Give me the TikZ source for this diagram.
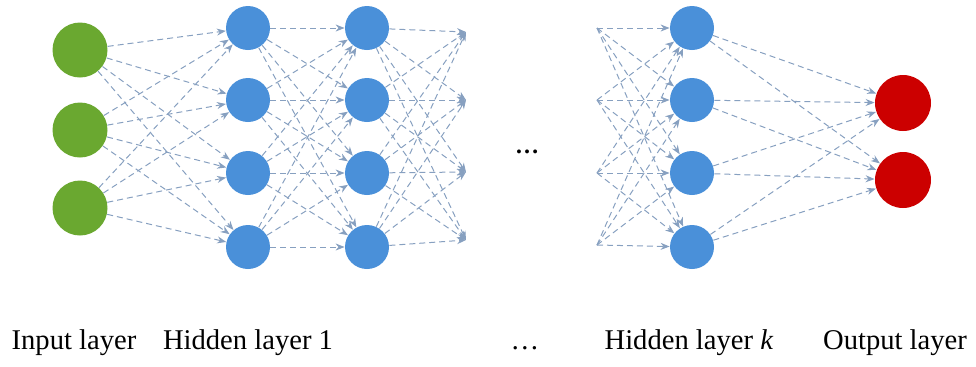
\documentclass[tikz,border=0pt]{standalone}
\usepackage{fontspec}
\setmainfont{Liberation Serif}
\usetikzlibrary{arrows.meta}
\definecolor{ingreen}{RGB}{106,168,48}
\definecolor{hidblue}{RGB}{74,144,217}
\definecolor{outred}{RGB}{204,0,0}
\definecolor{linkblue}{RGB}{135,160,192}

\begin{document}
\begin{tikzpicture}[x=0.5pt,y=-0.5pt,
  neuron/.style={circle,inner sep=0pt},
  innode/.style={neuron,fill=ingreen,minimum size=27.5pt},
  hidnode/.style={neuron,fill=hidblue,minimum size=22pt},
  outnode/.style={neuron,fill=outred,minimum size=28pt},
  link/.style={-{Stealth[length=4.5pt,width=3.5pt]},draw=linkblue,line width=0.5pt,densely dashed},
  layerlabel/.style={anchor=base,font=\fontsize{14.3}{17}\selectfont}]
  \useasboundingbox (0,0) rectangle (976,366);
  % neurons
  \foreach \y [count=\i] in {50,130,208} \node[innode] (in\i) at (80,\y) {};
  \foreach \y [count=\i] in {28,100,173,247} {
    \node[hidnode] (ha\i) at (248,\y) {};
    \node[hidnode] (hb\i) at (367,\y) {};
    \node[hidnode] (hk\i) at (692,\y) {};
  }
  \node[outnode] (out1) at (903,103) {};
  \node[outnode] (out2) at (903,180) {};
  % loose ends round the gap
  \foreach \y [count=\i] in {32,100,172,240} \coordinate (tail\i) at (466,\y);
  \foreach \y [count=\i] in {28,100,173,245} \coordinate (head\i) at (597,\y);
  \node[font=\fontsize{12}{14}\bfseries] (gap) at (527,152) {\ldots};
  % connections
  \foreach \i in {1,2,3} \foreach \j in {1,...,4} \draw[link] (in\i) -- (ha\j);
  \foreach \i in {1,...,4} \foreach \j in {1,...,4} {
    \draw[link] (ha\i) -- (hb\j);
    \draw[link] (hb\i) -- (tail\j);
    \draw[link] (head\i) -- (hk\j);
  }
  \foreach \i in {1,...,4} \foreach \j in {1,2} \draw[link] (hk\i) -- (out\j);
  % layer names
  \node[layerlabel] (lin) at (74,349) {Input layer};
  \node[layerlabel] (lh1) at (248,349) {Hidden layer 1};
  \node[layerlabel] (ldots) at (525,349) {\ldots};
  \node[layerlabel] (lhk) at (689,349) {Hidden layer \textit{k}};
  \node[layerlabel] (lout) at (895,349) {Output layer};
\end{tikzpicture}
\end{document}
